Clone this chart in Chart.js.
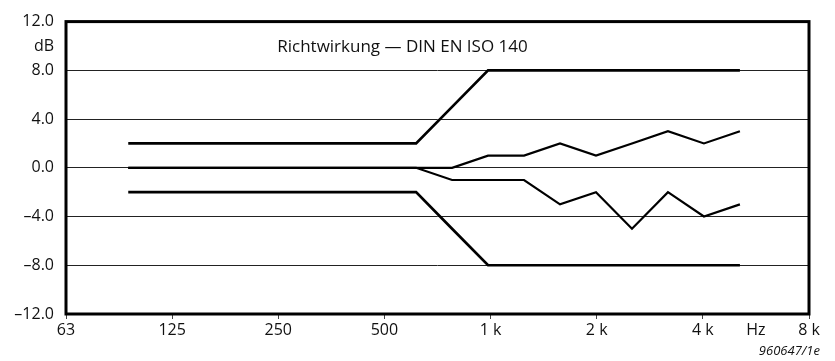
<!DOCTYPE html>
<html>
<head>
<meta charset="utf-8">
<script src="https://cdn.jsdelivr.net/npm/chart.js@4.4.1/dist/chart.umd.min.js"></script>
<style>
  html, body { margin: 0; padding: 0; background: #fff; }
  canvas { display: block; }
</style>
</head>
<body>
<canvas id="chart" width="835" height="361"></canvas>
<script>
// Third-octave bands 100 Hz .. 5 kHz
const bands = ['100', '125', '160', '200', '250', '315', '400', '500', '630', '800',
               '1 k', '1.25 k', '1.6 k', '2 k', '2.5 k', '3.15 k', '4 k', '5 k'];

// Tolerance limits (dB)
const upperLimit = [2, 2, 2, 2, 2, 2, 2, 2, 2, 5, 8, 8, 8, 8, 8, 8, 8, 8];
const lowerLimit = [-2, -2, -2, -2, -2, -2, -2, -2, -2, -5, -8, -8, -8, -8, -8, -8, -8, -8];

// Measured directivity deviations (dB)
const measuredUpper = [0, 0, 0, 0, 0, 0, 0, 0, 0, 0, 1, 1, 2, 1, 2, 3, 2, 3];
const measuredLower = [0, 0, 0, 0, 0, 0, 0, 0, 0, -1, -1, -1, -3, -2, -5, -2, -4, -3];

// Octave axis labels (63 Hz .. 8 kHz) and unit marker
const xTickLabels = ['63', '125', '250', '500', '1 k', '2 k', '4 k', '8 k'];
const xUnitLabel = 'Hz';
const yTickValues = [-12, -8, -4, 0, 4, 8, 12];
const yUnitLabel = 'dB';

const titleText = 'Richtwirkung \u2014 DIN EN ISO 140';
const codeText = '960647/1e';

const FONT = "'Open Sans', 'Noto Sans', sans-serif";

const toPoints = arr => arr.map((v, i) => ({ x: i, y: v }));
const fmtDb = v => (v < 0 ? '\u2013' + Math.abs(v).toFixed(1) : v.toFixed(1));

const lineStyle = (w) => ({
  borderColor: '#000',
  borderWidth: w,
  pointRadius: 0,
  fill: false,
  tension: 0,
  borderJoinStyle: 'miter',
  borderCapStyle: 'butt',
  xAxisID: 'xd',
  yAxisID: 'y'
});

const framePlugin = {
  id: 'frame',
  afterDraw(chart) {
    const { ctx, chartArea: a, scales } = chart;
    ctx.save();
    ctx.strokeStyle = '#000';
    ctx.lineWidth = 3;
    ctx.strokeRect(a.left, a.top, a.right - a.left, a.bottom - a.top);

    // heading inside the plot
    ctx.fillStyle = '#111';
    ctx.font = "17px " + FONT;
    ctx.textAlign = 'center';
    ctx.textBaseline = 'middle';
    ctx.fillText(titleText, scales.x.getPixelForValue(3.17), scales.y.getPixelForValue(9.9));

    // drawing number
    ctx.font = "italic 13px " + FONT;
    ctx.textAlign = 'right';
    ctx.textBaseline = 'alphabetic';
    ctx.fillText(codeText, a.right + 11, 355);
    ctx.restore();
  }
};

new Chart(document.getElementById('chart'), {
  type: 'line',
  data: {
    datasets: [
      { label: 'upper limit', data: toPoints(upperLimit), ...lineStyle(2.7) },
      { label: 'lower limit', data: toPoints(lowerLimit), ...lineStyle(2.7) },
      { label: 'measured +', data: toPoints(measuredUpper), ...lineStyle(2.2) },
      { label: 'measured -', data: toPoints(measuredLower), ...lineStyle(2.2) }
    ]
  },
  options: {
    responsive: false,
    animation: false,
    devicePixelRatio: 1,
    layout: { padding: { left: 0, top: 20, right: 26, bottom: 0 } },
    plugins: {
      legend: { display: false },
      tooltip: { enabled: false },
      title: { display: false }
    },
    scales: {
      // band axis used by the data (one unit per third octave)
      xd: {
        type: 'linear',
        display: false,
        min: -1.73,
        max: 18.92
      },
      // visible octave axis
      x: {
        type: 'linear',
        position: 'bottom',
        min: 0,
        max: 7,
        afterBuildTicks(scale) {
          const t = xTickLabels.map((_, i) => ({ value: i }));
          t.splice(7, 0, { value: 6.5 });
          scale.ticks = t;
        },
        afterFit(scale) { scale.height = 47; },
        ticks: {
          autoSkip: false,
          maxRotation: 0,
          padding: 2,
          color: '#111',
          font: { family: FONT, size: 16 },
          callback: (v) => (v === 6.5 ? xUnitLabel : xTickLabels[v])
        },
        grid: {
          drawOnChartArea: false,
          drawTicks: true,
          tickLength: 5,
          tickWidth: 1,
          tickColor: (c) => (c.tick && c.tick.value === 6.5 ? 'rgba(0,0,0,0)' : '#444')
        },
        border: { display: false }
      },
      y: {
        type: 'linear',
        position: 'left',
        min: -12,
        max: 12,
        afterBuildTicks(scale) {
          const t = yTickValues.map(v => ({ value: v }));
          t.push({ value: 10 });
          t.sort((a, b) => a.value - b.value);
          scale.ticks = t;
        },
        afterFit(scale) { scale.width = 66; },
        ticks: {
          padding: 12,
          color: '#111',
          font: { family: FONT, size: 16 },
          callback: (v) => (v === 10 ? yUnitLabel : fmtDb(v))
        },
        grid: {
          drawTicks: false,
          lineWidth: 1,
          color: (c) => {
            const v = c.tick ? c.tick.value : 0;
            return (v === 12 || v === -12 || v === 10) ? 'rgba(0,0,0,0)' : '#222';
          }
        },
        border: { display: false }
      }
    }
  },
  plugins: [framePlugin]
});
</script>
</body>
</html>
